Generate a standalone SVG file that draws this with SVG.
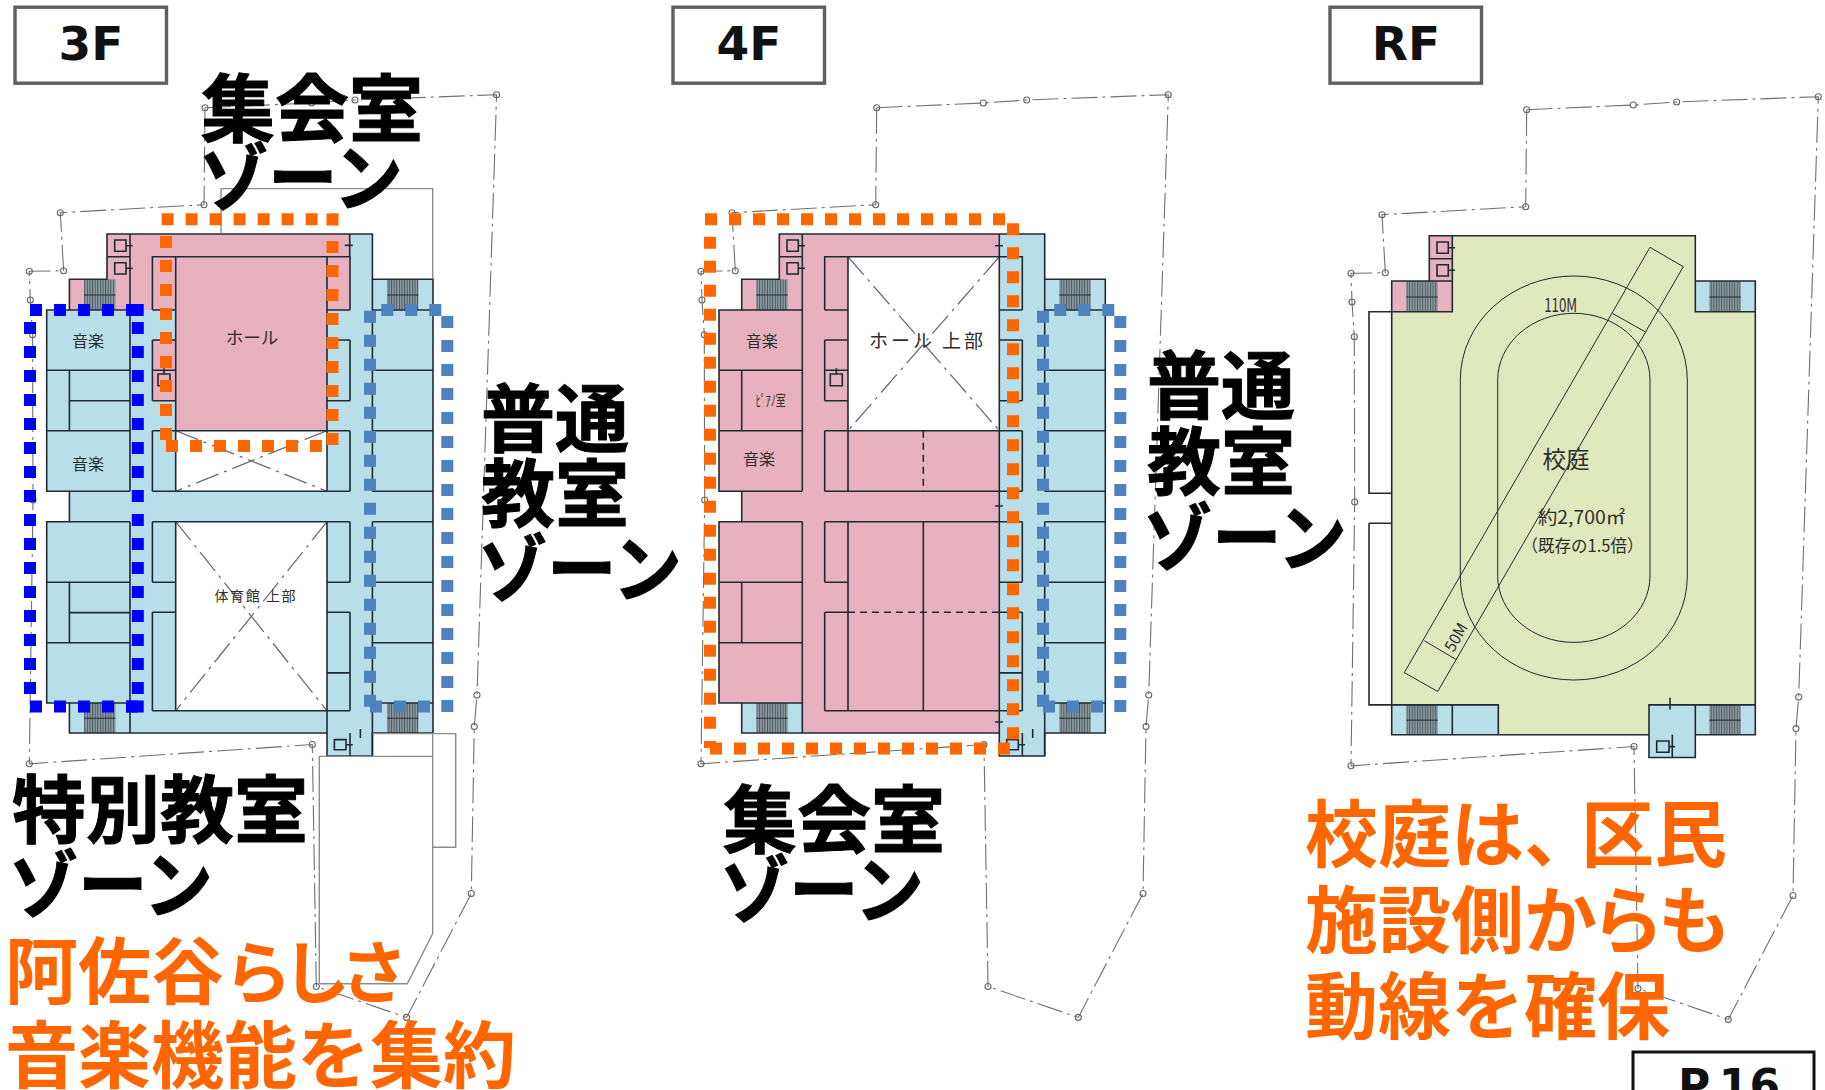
<svg xmlns="http://www.w3.org/2000/svg" xmlns:xlink="http://www.w3.org/1999/xlink" width="1825" height="1090" viewBox="0 0 1825 1090">
<style>
.big{font-family:"Noto Sans CJK JP","Noto Sans",sans-serif;font-weight:700;font-size:74px;fill:#000;stroke:#000;stroke-width:1}
.org{font-family:"Noto Sans CJK JP","Noto Sans",sans-serif;font-weight:700;font-size:73px;fill:#ff6600}
.lab{font-family:"Noto Sans CJK JP","Noto Sans",sans-serif;font-size:16px;fill:#2e2e2e;text-anchor:middle}
.tag{font-family:"DejaVu Sans",Verdana,sans-serif;font-weight:700;font-size:47px;fill:#111;text-anchor:middle}
.box{fill:#fff;stroke:#5f5f5f;stroke-width:3.4}
.wall{fill:none;stroke:#1f2a33;stroke-width:1.6}
.thin{fill:none;stroke:#1f2a33;stroke-width:1}
.void{fill:#fff}
.x{fill:none;stroke:#6d6d6d;stroke-width:1.3;stroke-dasharray:24 6 3 6}
.site{fill:none;stroke:#707070;stroke-width:1.1;stroke-dasharray:26 5 3 5}
.pt{fill:none;stroke:#666;stroke-width:1.1}
.annex{fill:none;stroke:#8c8c8c;stroke-width:1.4}
.blue{fill:#b8deea}.pink{fill:#e7b1bf}.green{fill:#e0e8bd}
.dot{fill:none;stroke-width:12;stroke-dasharray:12 12}
.o{stroke:#ff6600}.b{stroke:#0000ff}.s{stroke:#4f81bd}
.hatch{fill:url(#stair)}
</style>
<defs>
<pattern id="stair" width="2.6" height="10" patternUnits="userSpaceOnUse"><rect width="2.6" height="10" fill="#8d9ba0"/><rect width="1" height="10" fill="#4a5a60"/></pattern>
<g id="site">
<path class="site" d="M876.7 107.7L983.3 103L1026.7 100L1168.3 94.7L1148.7 695L1146 726.6L1143 893.5L1078.3 1017.4L988 986.5L984 744.5L701 763.8L704.7 500L704.3 334.7L702 300L701 271.3L735.3 270.7L732 212.7L875.7 204.7Z"/>
<g class="pt"><circle cx="876.7" cy="107.7" r="3"/><circle cx="983.3" cy="103" r="3"/><circle cx="1026.7" cy="100" r="3"/><circle cx="1168.3" cy="94.7" r="3"/><circle cx="1148.7" cy="695" r="3"/><circle cx="1146" cy="726.6" r="3"/><circle cx="1143" cy="893.5" r="3"/><circle cx="1078.3" cy="1017.4" r="3"/><circle cx="988" cy="986.5" r="3"/><circle cx="984" cy="744.5" r="3"/><circle cx="701" cy="763.8" r="3"/><circle cx="704.7" cy="500" r="3"/><circle cx="704.3" cy="334.7" r="3"/><circle cx="702" cy="300" r="3"/><circle cx="701" cy="271.3" r="3"/><circle cx="735.3" cy="270.7" r="3"/><circle cx="732" cy="212.7" r="3"/><circle cx="875.7" cy="204.7" r="3"/></g>
</g>
<path id="outline" d="M779.3 234H1044.7V279.3H1105.3V733H1044.7V756H999.3V733H741.7V703H719V521.7H741.7V491.3H719V310H741.7V279.3H779.3Z"/>
<g id="stairs">
<rect class="hatch" x="756.3" y="279.3" width="31.4" height="30.7"/>
<rect class="hatch" x="1059.3" y="279.3" width="31.4" height="30.7"/>
<rect class="hatch" x="756.3" y="703" width="31.4" height="30"/>
<rect class="hatch" x="1059.3" y="703" width="31.4" height="30"/>
<path class="thin" d="M756.3 295H787.7M1059.3 295H1090.7M756.3 718.2H787.7M1059.3 718.2H1090.7"/>
</g>
<g id="walls">
<use href="#outline" class="wall"/>
<path class="wall" d="M779.3 256.7H802.3M802.3 234V491.3M802.3 521.7V733M741.7 310H802.3M719 370.3H802.3M719 430.7H802.3M741.7 491.3H802.3M741.7 521.7H802.3M719 582.3H802.3M719 642.8H802.3M741.7 370.3V430.7M741.7 582.3V642.8"/>
<path class="wall" d="M824.7 310V256.7H1022.3V310M824.7 310H848M999.3 310H1022.3M848 256.7V491.3M848 521.7V710.8M999.3 256.7V491.3M999.3 521.7V733"/>
<path class="wall" d="M824.7 340V400.7M824.7 340H848M824.7 370.3H848M824.7 400.7H848M1022.3 340V400.7M999.3 340H1022.3M999.3 400.7H1022.3"/>
<path class="wall" d="M824.7 430.7H1022.3M824.7 430.7V491.3M1022.3 430.7V491.3M824.7 491.3H1022.3M824.7 521.7H1022.3M824.7 521.7V582.3M1022.3 521.7V582.3M824.7 582.3H848M999.3 582.3H1022.3M824.7 612.2H848M999.3 612.2H1022.3M824.7 612.2V710.8M1022.3 612.2V710.8M999.3 672.9H1022.3M824.7 710.8H1022.3"/>
<path class="wall" d="M1044.7 279.3V491.3M1044.7 521.7V703M1044.7 310H1105.3M1044.7 370.3H1105.3M1044.7 430.7H1105.3M1044.7 491.3H1105.3M1044.7 521.7H1105.3M1044.7 582.3H1105.3M1044.7 642.8H1105.3M1044.7 703H1105.3M741.7 703H802.3M1044.7 703V756M1022.3 733V756"/>
<path class="wall" d="M787 240h11.3v11.3h-11.3zM787 262.7h11.3v11.3h-11.3zM798.3 245.7h6.7M798.3 268.3h6.7M830.3 374h12v11.7h-12zM836.3 368.3V374M1006.7 739.6h11.6v10.1h-11.6zM1018.3 744.8h6.7M1032.7 729v9"/>
</g>
</defs>

<g id="plan-3F">
<g transform="translate(-672.3 0)">
<use href="#outline" class="blue"/>
<path class="pink" d="M779.3 234H1022V310H999.3V431H848V310H741.7V279.3H779.3ZM824.7 340H848V400.7H824.7Z"/>
<rect class="void" x="848" y="430.7" width="151.3" height="60.6"/>
<rect class="void" x="848" y="521.7" width="151.3" height="189.1"/>
<use href="#stairs"/>
<path class="x" d="M848 430.7L999.3 491.3M999.3 430.7L848 491.3M848 521.7L999.3 710.8M999.3 521.7L848 710.8"/>
<use href="#walls"/>
<path class="wall" d="M741.7 400.7H802.3M741.7 612.6H802.3M1022 234V256.7M1017 245.4H1025"/>
</g>
<use href="#site" transform="translate(-671.7 0)"/>
<path class="annex" d="M221 234V188.6H432.7V279.3M372.7 733.6H455.7V847.3H432.7M432.7 733.6V933.5L407.3 983.7H319.3V756.4H432.7"/>
<text class="lab" x="88" y="347">音楽</text>
<text class="lab" x="88" y="470">音楽</text>
<text class="lab" style="font-size:17.5px" x="252" y="344">ホール</text>
<text class="lab" style="font-size:14px" x="255" y="601" textLength="81" lengthAdjust="spacing">体育館 上部</text>
</g>

<g id="plan-4F">
<use href="#outline" class="blue"/>
<path class="pink" d="M779.3 234H999.3V733H802.3V703H719V521.7H741.7V491.3H719V310H741.7V279.3H779.3Z"/>
<path class="blue" d="M741.7 703H802.3V733H741.7Z"/>
<rect class="void" x="848" y="256.7" width="151.3" height="174"/>
<use href="#stairs"/>
<path class="x" d="M848 256.7L999.3 430.7M999.3 256.7L848 430.7"/>
<use href="#walls"/>
<path class="wall" d="M999.3 234V256.7M999.3 491.3V521.7M923.3 521.7V710.8M995 245.7H1003M995 506H1003M995 722H1003"/>
<path class="wall" style="stroke-dasharray:7 5" d="M923.3 430.7V491.3M848 612.2H999.3"/>
<use href="#site"/>
<text class="lab" x="761.7" y="347">音楽</text>
<text class="lab" x="759" y="465">音楽</text>
<text class="lab" x="770.7" y="406" textLength="30" lengthAdjust="spacingAndGlyphs" style="font-size:15px">ﾋﾟｱﾉ室</text>
<text class="lab" style="font-size:19px" x="926" y="348" textLength="114" lengthAdjust="spacing">ホール 上部</text>
</g>

<g id="plan-RF">
<path class="green" d="M1452.3 235.7H1695.3V311.7H1755.3V734.7H1391.7V311.7H1452.3Z"/>
<path class="pink" d="M1429.3 235.7H1452.3V311.7H1391.7V281H1429.3Z"/>
<path class="blue" d="M1695.3 281H1755.3V311.7H1695.3ZM1391.7 704.9H1498.3V734.7H1391.7ZM1649 704.9H1755.3V734.7H1695.3V757.5H1649Z"/>
<g transform="translate(650 2)"><use href="#stairs"/></g>
<path class="wall" d="M1429.3 281V235.7H1695.3V281H1755.3V734.7H1695.3V757.5H1649V734.7H1391.7V311.7H1369V493.3H1391.7M1369 523.3H1391.7M1369 523.3V704.9H1498.3V734.7M1391.7 281H1452.3V311.7H1391.7ZM1391.7 281V311.7M1429.3 258.7H1452.3M1452.3 235.7V311.7M1695.3 281V311.7H1755.3M1452.3 704.9V734.7M1649 734.7V704.9H1755.3M1695.3 704.9V757.5M1672.3 734.7V757.5"/>
<path class="wall" d="M1437 242h11.3v11.3h-11.3zM1437 264.7h11.3v11.3h-11.3zM1448.3 247.7h6.7M1448.3 270.3h6.7M1656.7 741h12.3v11.2h-12.3zM1669 746.6h6M1670 697.8v11.6"/>
<path class="thin" d="M1460.3 380A113.5 104 0 0 1 1687.3 380V576A113.5 104 0 0 1 1460.3 576ZM1497.7 380A76.15 66.7 0 0 1 1650 380V576A76.15 66.4 0 0 1 1497.7 576ZM1650 247.3L1683.3 266.7L1437.7 691.5L1404.3 672.6ZM1612.3 313.3L1645 331.7M1424.3 640.7L1455.7 659.3"/>
<use href="#site" transform="translate(650 2)"/>
<text class="lab" x="1560.7" y="312" textLength="33" lengthAdjust="spacingAndGlyphs" style="font-size:19px">110M</text>
<text class="lab" x="1566" y="468" style="font-size:23.5px">校庭</text>
<text class="lab" x="1581.5" y="524" textLength="87" lengthAdjust="spacingAndGlyphs" style="font-size:18px">約2,700㎡</text>
<text class="lab" x="1582.5" y="552" textLength="122" lengthAdjust="spacingAndGlyphs" style="font-size:17px">（既存の1.5倍）</text>
<text class="lab" transform="translate(1455.7 637) rotate(-60)" y="6" style="font-size:16px" textLength="30" lengthAdjust="spacingAndGlyphs">50M</text>
</g>

<g id="zones">
<g id="zone-3F-hall">
<path class="dot o" d="M161.6 219.3H338M166 236V440M332.5 241V445M166 446H322M332.5 213.6V228.6" />
</g>
<g id="zone-3F-special">
<path class="dot b" d="M30 310H138M30 706.4H138M30 322V694M137.8 322V694"/>
<path class="b" style="fill:none;stroke-width:12" d="M126 310H143.7M126 706.4H143.7"/>
</g>
<g id="zone-steel-3F"><path class="dot s" d="M370 310.7V707M447.3 316V712.5M381.3 310H441.3M370 706.4H430"/></g>
<g id="zone-4F-hall">
<path class="dot o" d="M705 219.3H1006M710 236.7V729M1013 223.3V740M710 748.5H1010"/>
<path class="o" style="fill:none;stroke-width:7" d="M704 744.5H716"/>
</g>
<g id="zone-steel-4F"><path class="dot s" d="M1043 310.7V707M1120.3 316V712.5M1054.3 310H1114.3M1043 706.4H1103"/></g>
</g>

<g id="labels">
<text class="big" x="201" y="136">集会室</text>
<text class="big" x="199" y="205" textLength="204" lengthAdjust="spacingAndGlyphs">ゾーン</text>
<text class="big" x="481" y="446">普通</text>
<text class="big" x="481" y="521">教室</text>
<text class="big" x="478" y="596" textLength="204" lengthAdjust="spacingAndGlyphs">ゾーン</text>
<text class="big" x="12" y="837">特別教室</text>
<text class="big" x="9" y="912" textLength="204" lengthAdjust="spacingAndGlyphs">ゾーン</text>
<text class="org" x="5" y="998">阿佐谷<tspan letter-spacing="-10" style="font-size:68px">らしさ</tspan></text>
<text class="org" x="5" y="1082">音楽機能を集約</text>
<text class="big" x="723" y="847">集会室</text>
<text class="big" x="720" y="917" textLength="204" lengthAdjust="spacingAndGlyphs">ゾーン</text>
<text class="big" x="1147" y="413">普通</text>
<text class="big" x="1147" y="489">教室</text>
<text class="big" x="1143" y="565" textLength="204" lengthAdjust="spacingAndGlyphs">ゾーン</text>
<text class="org" x="1305" y="861">校庭は<tspan letter-spacing="-16">、</tspan>区民</text>
<text class="org" x="1305" y="947">施設側<tspan letter-spacing="-6">からも</tspan></text>
<text class="org" x="1305" y="1033">動線を確保</text>
</g>

<g id="tag-3F"><rect class="box" x="15" y="7.2" width="151.5" height="76"/><text class="tag" x="91" y="60">3F</text></g>
<g id="tag-4F"><rect class="box" x="673" y="7.2" width="151.5" height="76"/><text class="tag" x="749" y="60">4F</text></g>
<g id="tag-RF"><rect class="box" x="1330" y="7.2" width="151.5" height="76"/><text class="tag" x="1406" y="60">RF</text></g>
<g id="tag-page"><rect x="1633" y="1052" width="181" height="100" fill="#fff" stroke="#111" stroke-width="3"/><text class="tag" style="font-size:44px" x="1729" y="1101">P.16</text></g>
</svg>
